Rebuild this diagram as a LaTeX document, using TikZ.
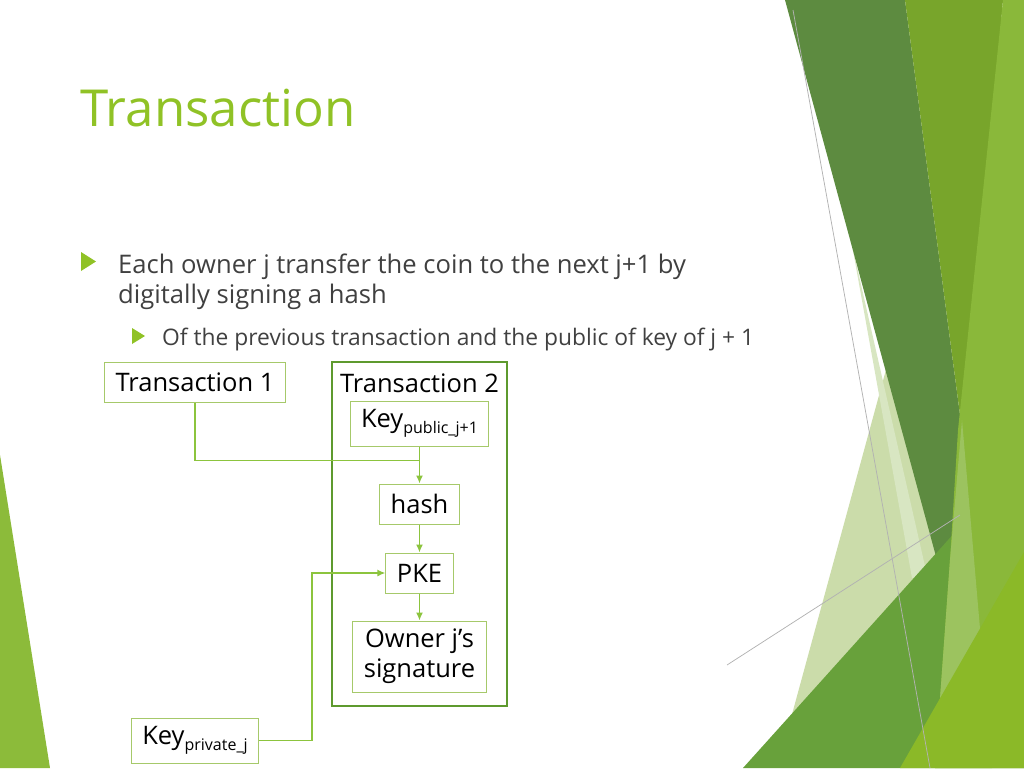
\documentclass[tikz,border=0pt]{standalone}
\usepackage{fontspec}
\setmainfont{Open Sans}
\usetikzlibrary{positioning, arrows.meta}

\definecolor{facet}{HTML}{90C226}
\definecolor{bodygray}{HTML}{404040}
\definecolor{boxgreen}{HTML}{A6C96A}
\definecolor{groupgreen}{HTML}{5E9A2E}
\definecolor{linkgreen}{HTML}{8CC43E}
\definecolor{facetpale}{HTML}{CBDCAA}
\definecolor{facetsliver}{HTML}{D8E6C2}
\definecolor{facetdark}{HTML}{5D8B40}
\definecolor{facetmid}{HTML}{78A52B}
\definecolor{facetlight}{HTML}{8AB83A}
\definecolor{facetlighter}{HTML}{9CC35F}
\definecolor{facetgreen}{HTML}{68A13B}
\definecolor{facetlime}{HTML}{8BB928}
\definecolor{facetedge}{HTML}{8CBB3A}

\newcommand{\keysub}[1]{\raisebox{-6pt}{\fontsize{16}{16}\selectfont #1}}

\begin{document}
\begin{tikzpicture}[x=1pt, y=-1pt]
	% Define styles
	\tikzset{
		box/.style={rectangle, draw=boxgreen, line width=1pt, inner xsep=11pt, minimum height=40pt, text=black, font=\fontsize{25.5}{30}\selectfont},
		group/.style={rectangle, draw=groupgreen, line width=2pt, minimum width=175pt, minimum height=344pt},
		line/.style={draw=linkgreen, line width=1.5pt},
		arrow/.style={line, -{Latex[length=8pt, width=7pt]}},
		bullet/.style={fill=facet}
	}
	\useasboundingbox (0,0) rectangle (1024,768);
	
	% Background
	\fill[facetpale] (785,740) -- (905,300) -- (947,600) -- cycle;
	\fill[facetsliver] (852,245) -- (927,575) -- (912,578) -- cycle;
	\fill[facetdark] (785,0) -- (905,0) -- (962,430) -- (947,597) -- cycle;
	\fill[facetmid] (905,0) -- (1003,0) -- (966,430) -- (962,430) -- cycle;
	\fill[facetgreen] (743,768) -- (975,510) -- (1024,470) -- (1024,768) -- cycle;
	\fill[facetlight] (1003,0) -- (1024,0) -- (1024,768) -- (935,768) -- (950,560) -- (958,430) -- cycle;
	\fill[facetlighter] (962,420) -- (992,768) -- (935,768) -- (950,560) -- cycle;
	\fill[facetlime] (900,768) -- (1024,552) -- (1024,768) -- cycle;
	\fill[facetedge] (0,455) -- (50,768) -- (0,768) -- cycle;
	\draw[black!30, line width=0.75pt] (793,10) -- (930,768);
	\draw[black!30, line width=0.75pt] (727,665) -- (960,515);
	
	% Title and bullets
	\node[anchor=base west, inner sep=0pt, text=facet, font=\fontsize{51}{60}\selectfont] (title) at (80,126) {Transaction};
	\fill[bullet] (81,252) -- (96,261.5) -- (81,271) -- cycle;
	\node[anchor=base west, inner sep=0pt, align=left, text=bodygray, font=\fontsize{25.6}{30}\selectfont] (point) at (118,303) {Each owner j transfer the coin to the next j+1 by\\digitally signing a hash};
	\fill[bullet] (132,328) -- (145,336) -- (132,344) -- cycle;
	\node[anchor=base west, inner sep=0pt, text=bodygray, font=\fontsize{22.8}{26}\selectfont] (subpoint) at (162,345) {Of the previous transaction and the public of key of j + 1};
	
	% Nodes
	\node[group] (group) at (419.5,534) {};
	\node[anchor=base, inner sep=0pt, font=\fontsize{25.5}{30}\selectfont] (tx2) at (419.5,392) {Transaction 2};
	\node[box] (tx1) at (195,382) {Transaction 1};
	\node[box, minimum height=45pt] (kpub) at (419.5,423.5) {Key\keysub{public\_j+1}};
	\node[box, below=37pt of kpub] (hash) {hash};
	\node[box, below=28pt of hash] (pke) {PKE};
	\node[box, below=27pt of pke, align=center, minimum height=71pt] (owner) {Owner j’s\\signature};
	\node[box, minimum height=45pt] (kpriv) at (195,740.5) {Key\keysub{private\_j}};
	\coordinate[below=14pt of kpub.south] (join);
	
	% Arrows
	\draw[line] (tx1) |- (join);
	\draw[arrow] (kpub) -- (hash);
	\draw[arrow] (hash) -- (pke);
	\draw[arrow] (pke) -- (owner);
	\draw[arrow] (kpriv.east) -- ++(53,0) |- (pke.west);
	
\end{tikzpicture}
\end{document}
